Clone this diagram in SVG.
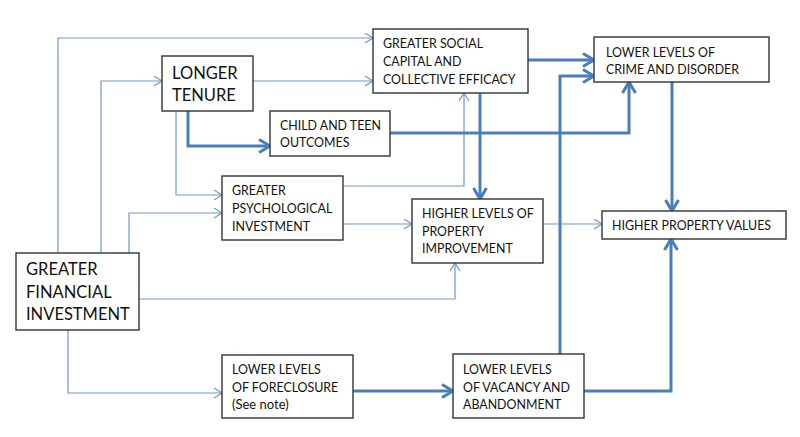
<svg xmlns="http://www.w3.org/2000/svg" width="800" height="437" viewBox="0 0 800 437">
<style>
.box{fill:#fff;stroke:#333;stroke-width:1.4}
.t{font-family:Lato,"Liberation Sans",Arial,sans-serif;font-size:12.4px;fill:#111}
.tb{font-family:Lato,"Liberation Sans",Arial,sans-serif;font-size:16.5px;fill:#111}
.thin{fill:none;stroke:#6f98cc;stroke-width:1.2;marker-end:url(#ah)}
.thick{fill:none;stroke:#4a7ebb;stroke-width:3;marker-end:url(#ahb)}
</style>
<defs>
<marker id="ah" markerUnits="userSpaceOnUse" markerWidth="12" markerHeight="12" refX="9" refY="5" orient="auto">
<path d="M1,0 L9,5 L1,10" fill="none" stroke="#6f98cc" stroke-width="1.2"/>
</marker>
<marker id="ahb" markerUnits="userSpaceOnUse" markerWidth="18" markerHeight="18" refX="13" refY="8" orient="auto">
<path d="M2,1.5 L13,8 L2,14.5" fill="none" stroke="#4a7ebb" stroke-width="3"/>
</marker>
</defs>
<rect width="800" height="437" fill="#fff"/>
<g id="connectors">
<path class="thin" d="M58,253 V38 H373"/>
<path class="thin" d="M101,253 V81 H162"/>
<path class="thin" d="M129,253 V213 H222"/>
<path class="thin" d="M253,81 H373"/>
<path class="thin" d="M176,111 V195 H222"/>
<path class="thin" d="M343,186 H464 V93"/>
<path class="thin" d="M343,224 H412"/>
<path class="thin" d="M139,299 H455 V263"/>
<path class="thin" d="M68,330 V393 H222"/>
<path class="thin" d="M543,224 H602"/>
<path class="thick" d="M188,111 V146 H270"/>
<path class="thick" d="M528,60 H594"/>
<path class="thick" d="M390,133 H629 V82"/>
<path class="thick" d="M480,93 V199"/>
<path class="thick" d="M672,82 V211"/>
<path class="thick" d="M353,391 H453"/>
<path class="thick" d="M560,354 V76 H594"/>
<path class="thick" d="M584,391 H671 V239"/>
</g>
<g id="longer-tenure"><rect class="box" x="162" y="56" width="91" height="55"/><text class="tb" x="172" y="79">LONGER</text><text class="tb" x="172" y="101">TENURE</text></g>
<g id="social-capital"><rect class="box" x="373" y="29" width="155" height="64"/><text class="t" x="383" y="48">GREATER SOCIAL</text><text class="t" x="383" y="66">CAPITAL AND</text><text class="t" x="383" y="84">COLLECTIVE EFFICACY</text></g>
<g id="crime"><rect class="box" x="594" y="37" width="175" height="45"/><text class="t" x="606" y="57">LOWER LEVELS OF</text><text class="t" x="606" y="74">CRIME AND DISORDER</text></g>
<g id="child-teen"><rect class="box" x="270" y="111" width="120" height="45"/><text class="t" x="280" y="130">CHILD AND TEEN</text><text class="t" x="280" y="147">OUTCOMES</text></g>
<g id="psychological"><rect class="box" x="222" y="176" width="121" height="64"/><text class="t" x="232" y="195">GREATER</text><text class="t" x="232" y="213">PSYCHOLOGICAL</text><text class="t" x="232" y="231">INVESTMENT</text></g>
<g id="property-improvement"><rect class="box" x="412" y="199" width="131" height="64"/><text class="t" x="422" y="218">HIGHER LEVELS OF</text><text class="t" x="422" y="236">PROPERTY</text><text class="t" x="422" y="253">IMPROVEMENT</text></g>
<g id="property-values"><rect class="box" x="602" y="211" width="184" height="28"/><text class="t" x="612" y="230">HIGHER PROPERTY VALUES</text></g>
<g id="financial"><rect class="box" x="16" y="253" width="123" height="77"/><text class="tb" x="26" y="275">GREATER</text><text class="tb" x="26" y="298">FINANCIAL</text><text class="tb" x="26" y="320">INVESTMENT</text></g>
<g id="foreclosure"><rect class="box" x="222" y="355" width="131" height="63"/><text class="t" x="232" y="374">LOWER LEVELS</text><text class="t" x="232" y="392">OF FORECLOSURE</text><text class="t" x="232" y="409" style="font-size:13px">(See note)</text></g>
<g id="vacancy"><rect class="box" x="453" y="354" width="131" height="64"/><text class="t" x="463" y="374">LOWER LEVELS</text><text class="t" x="463" y="392">OF VACANCY AND</text><text class="t" x="463" y="409">ABANDONMENT</text></g>
</svg>
